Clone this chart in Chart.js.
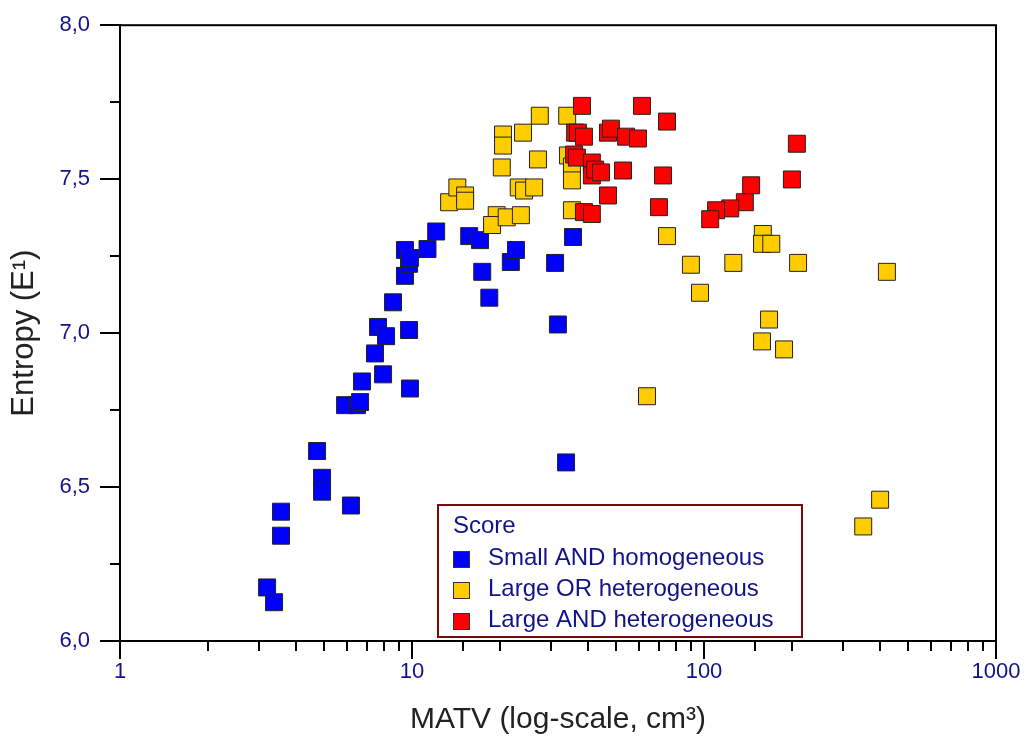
<!DOCTYPE html>
<html>
<head>
<meta charset="utf-8">
<script src="https://cdn.jsdelivr.net/npm/chart.js@4.4.0/dist/chart.umd.min.js"></script>
<style>
body{margin:0;background:#fff;}
#wrap{position:relative;width:1031px;height:740px;}
</style>
</head>
<body>
<div id="wrap"><canvas id="myChart"></canvas></div>
<script>
// MATV (cm3) / entropy per score group
const smallHomX = [3.19, 3.37, 3.56, 3.56, 4.73, 4.92, 4.92, 6.18, 5.90, 6.48, 6.64, 6.74, 7.96, 9.84, 7.47, 7.65, 8.15, 9.77, 8.61, 9.46, 9.46, 9.77, 9.84, 11.3, 12.1, 15.7, 17.1, 17.4, 18.4, 21.8, 22.7, 30.9, 35.6, 31.6, 33.7];
const smallHomY = [6.174, 6.126, 6.42, 6.342, 6.617, 6.53, 6.485, 6.44, 6.766, 6.766, 6.776, 6.843, 6.866, 6.82, 6.934, 7.02, 6.99, 7.01, 7.10, 7.186, 7.27, 7.225, 7.244, 7.273, 7.33, 7.315, 7.302, 7.199, 7.115, 7.231, 7.27, 7.228, 7.312, 7.028, 6.58];

const largeOrHetX = [13.4, 14.3, 15.2, 15.2, 20.5, 20.5, 20.3, 24.0, 27.4, 27.0, 23.2, 24.2, 26.2, 19.5, 18.8, 21.1, 23.6, 34.0, 34.2, 35.3, 35.3, 35.3, 74.7, 90.2, 96.9, 126, 159, 158, 170, 210, 423, 167, 158, 188, 63.8, 401, 351];
const largeOrHetY = [7.425, 7.473, 7.447, 7.43, 7.645, 7.609, 7.538, 7.651, 7.706, 7.564, 7.473, 7.463, 7.473, 7.383, 7.351, 7.376, 7.383, 7.706, 7.577, 7.541, 7.496, 7.399, 7.315, 7.222, 7.131, 7.228, 7.322, 7.29, 7.29, 7.228, 7.199, 7.044, 6.973, 6.947, 6.795, 6.459, 6.372];

const largeAndHetX = [38.2, 36.2, 37.0, 38.8, 46.9, 48.0, 54.1, 59.4, 61.3, 74.7, 35.9, 36.7, 41.3, 41.3, 42.4, 44.4, 52.8, 72.4, 46.9, 70.1, 38.8, 41.3, 208, 200, 145, 138, 123, 110, 105];
const largeAndHetY = [7.738, 7.651, 7.651, 7.638, 7.651, 7.664, 7.638, 7.632, 7.738, 7.687, 7.580, 7.570, 7.554, 7.512, 7.531, 7.522, 7.528, 7.512, 7.447, 7.409, 7.393, 7.387, 7.615, 7.499, 7.48, 7.425, 7.405, 7.399, 7.37];

const groupNames = ['Small AND homogeneous', 'Large OR heterogeneous', 'Large AND heterogeneous'];
const groupColors = ['#0000ff', '#ffcc00', '#ff0000'];
const legendTitle = 'Score';
const xDecades = [1, 10, 100, 1000];

const navy = '#12128a';
const fontFam = '"Liberation Sans", Arial, sans-serif';

function pts(xs, ys) {
    return xs.map((x, i) => ({x: x, y: ys[i]}));
}
function isDecade(v) {
    const l = Math.log10(v);
    return Math.abs(l - Math.round(l)) < 1e-9;
}

// box round plot, tick marks (long major / short minor) and the legend box
const frameAndLegend = {
    id: 'frameAndLegend',
    afterDraw(chart) {
        const ctx = chart.ctx, a = chart.chartArea;
        const xs = chart.scales.x, ys = chart.scales.y;
        ctx.save();
        ctx.strokeStyle = '#000';
        ctx.lineWidth = 2;
        ctx.strokeRect(a.left, a.top, a.right - a.left, a.bottom - a.top);
        ctx.beginPath();
        xs.ticks.forEach(t => {
            const px = Math.round(xs.getPixelForValue(t.value));
            const len = isDecade(t.value) ? 18 : 10;
            ctx.moveTo(px, a.bottom); ctx.lineTo(px, a.bottom + len);
        });
        ys.ticks.forEach(t => {
            const py = Math.round(ys.getPixelForValue(t.value));
            const len = Math.abs(t.value * 2 - Math.round(t.value * 2)) < 1e-6 ? 20 : 10;
            ctx.moveTo(a.left, py); ctx.lineTo(a.left - len, py);
        });
        ctx.stroke();

        // legend
        const lx = 438, ly = 505, lw = 364, lh = 132;
        ctx.fillStyle = '#fff';
        ctx.fillRect(lx, ly, lw, lh);
        ctx.strokeStyle = '#7a0a0a';
        ctx.lineWidth = 2;
        ctx.strokeRect(lx, ly, lw, lh);
        ctx.font = '24px ' + fontFam;
        ctx.textBaseline = 'alphabetic';
        ctx.textAlign = 'left';
        ctx.fillStyle = navy;
        ctx.fillText(legendTitle, 453, 533);
        chart.data.datasets.forEach((ds, i) => {
            const base = 565 + i * 31;
            ctx.fillStyle = ds.backgroundColor;
            ctx.fillRect(453, base - 14, 17, 17);
            ctx.strokeStyle = '#333';
            ctx.lineWidth = 1;
            ctx.strokeRect(453.5, base - 13.5, 16, 16);
            ctx.fillStyle = navy;
            ctx.fillText(ds.label, 488, base);
        });
        ctx.restore();
    }
};

function makeSet(i, xs, ys, ord) {
    return {
        label: groupNames[i],
        data: pts(xs, ys),
        backgroundColor: groupColors[i],
        borderColor: '#222',
        borderWidth: 1,
        pointStyle: 'rect',
        pointRadius: 12,
        pointHoverRadius: 12,
        order: ord
    };
}

const ctx = document.getElementById('myChart').getContext('2d');

const myChart = new Chart(ctx, {
    type: 'scatter',
    data: {
        datasets: [
            makeSet(0, smallHomX, smallHomY, 3),
            makeSet(1, largeOrHetX, largeOrHetY, 2),
            makeSet(2, largeAndHetX, largeAndHetY, 1)
        ]
    },
    options: {
        responsive: true,
        maintainAspectRatio: false,
        animation: false,
        layout: {padding: {left: 0, right: 35, top: 22, bottom: 0}},
        plugins: {
            legend: {display: false},
            tooltip: {enabled: false}
        },
        scales: {
            x: {
                type: 'logarithmic',
                min: 1,
                max: 1000,
                afterFit: s => { s.height = 99; },
                border: {display: true, color: '#000', width: 2},
                grid: {drawOnChartArea: false, tickLength: 18, tickColor: 'rgba(0,0,0,0)'},
                ticks: {
                    autoSkip: false,
                    maxRotation: 0,
                    padding: 0,
                    color: navy,
                    font: {family: fontFam, size: 22},
                    callback: v => xDecades.includes(v) ? String(v) : ''
                },
                title: {
                    display: true,
                    text: 'MATV (log-scale, cm\u00b3)',
                    color: '#222',
                    font: {family: fontFam, size: 30},
                    padding: {top: 0, bottom: 2}
                }
            },
            y: {
                min: 6,
                max: 8,
                afterFit: s => { s.width = 120; },
                border: {display: true, color: '#000', width: 2},
                grid: {drawOnChartArea: false, tickLength: 18, tickColor: 'rgba(0,0,0,0)'},
                ticks: {
                    stepSize: 0.25,
                    autoSkip: false,
                    padding: 12,
                    color: navy,
                    font: {family: fontFam, size: 22},
                    callback: v => Math.abs(v * 2 - Math.round(v * 2)) < 1e-6 ? v.toFixed(1).replace('.', ',') : ''
                },
                title: {
                    display: true,
                    text: 'Entropy (E\u00b9)',
                    color: '#222',
                    font: {family: fontFam, size: 31},
                    padding: {top: 6, bottom: 0}
                }
            }
        }
    },
    plugins: [frameAndLegend]
});
</script>
</body>
</html>
